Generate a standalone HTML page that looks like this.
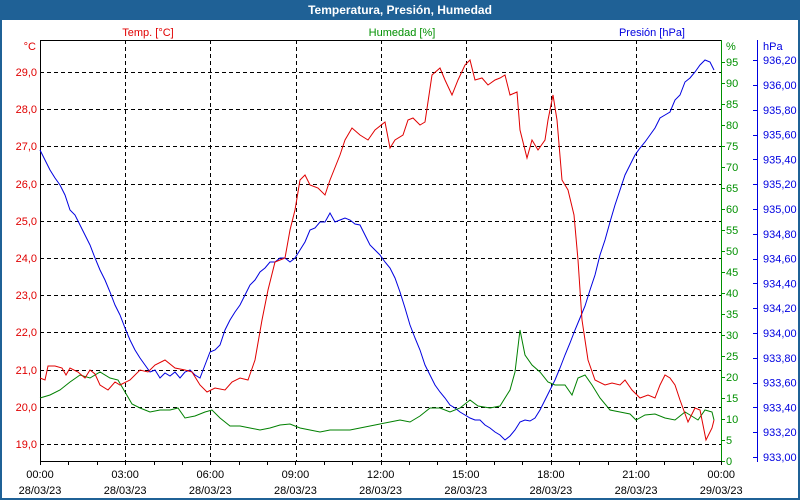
<!DOCTYPE html>
<html><head><meta charset="utf-8"><style>
html,body{margin:0;padding:0;background:#fff}
svg{display:block;font-family:"Liberation Sans",sans-serif;font-size:11px}
</style></head><body>
<svg width="800" height="500" viewBox="0 0 800 500" xmlns="http://www.w3.org/2000/svg">
<rect x="0" y="0" width="800" height="500" fill="#fff"/>
<rect x="1" y="1" width="798" height="498" fill="none" stroke="#1f6196" stroke-width="2"/>
<rect x="0" y="0" width="800" height="20" fill="#1f6196"/>
<text x="400" y="14" text-anchor="middle" fill="#fff" font-weight="bold" font-size="12">Temperatura, Presión, Humedad</text>

<text x="148" y="36" text-anchor="middle" fill="#e00000">Temp. [°C]</text>
<text x="402" y="36" text-anchor="middle" fill="#009000">Humedad [%]</text>
<text x="685" y="36" text-anchor="end" fill="#0000e0">Presión [hPa]</text>
<text x="36" y="50" text-anchor="end" fill="#e00000">°C</text>
<text x="726" y="50" fill="#009000">%</text>
<text x="763" y="50" fill="#0000e0">hPa</text>

<g stroke="#000" stroke-dasharray="4,3" stroke-width="1">
<line x1="40" x2="721" y1="72.5" y2="72.5"/><line x1="40" x2="721" y1="109.5" y2="109.5"/>
<line x1="40" x2="721" y1="146.5" y2="146.5"/><line x1="40" x2="721" y1="184.5" y2="184.5"/>
<line x1="40" x2="721" y1="221.5" y2="221.5"/><line x1="40" x2="721" y1="258.5" y2="258.5"/>
<line x1="40" x2="721" y1="295.5" y2="295.5"/><line x1="40" x2="721" y1="332.5" y2="332.5"/>
<line x1="40" x2="721" y1="370.5" y2="370.5"/><line x1="40" x2="721" y1="407.5" y2="407.5"/>
<line x1="40" x2="721" y1="444.5" y2="444.5"/>
<line y1="40" y2="461" x1="125.5" x2="125.5"/><line y1="40" y2="461" x1="210.5" x2="210.5"/>
<line y1="40" y2="461" x1="296.5" x2="296.5"/><line y1="40" y2="461" x1="381.5" x2="381.5"/>
<line y1="40" y2="461" x1="466.5" x2="466.5"/><line y1="40" y2="461" x1="551.5" x2="551.5"/>
<line y1="40" y2="461" x1="636.5" x2="636.5"/>
</g>
<line x1="40.5" y1="40" x2="40.5" y2="461" stroke="#000"/>
<line x1="40" y1="40.5" x2="721" y2="40.5" stroke="#000"/>
<line x1="40" y1="461.5" x2="721" y2="461.5" stroke="#000"/>
<line x1="721.5" y1="40" x2="721.5" y2="462" stroke="#009000"/>
<line x1="757.5" y1="40" x2="757.5" y2="462" stroke="#0000e0"/>

<g fill="#e00000" text-anchor="end">
<text x="37" y="76">29,0</text><text x="37" y="113">28,0</text><text x="37" y="150">27,0</text>
<text x="37" y="188">26,0</text><text x="37" y="225">25,0</text><text x="37" y="262">24,0</text>
<text x="37" y="299">23,0</text><text x="37" y="336">22,0</text><text x="37" y="374">21,0</text>
<text x="37" y="411">20,0</text><text x="37" y="448">19,0</text>
</g>
<g fill="#009000" id="hum"></g>
<g fill="#0000e0" id="pres"></g>
<g stroke="#000" id="xt"></g>
<g fill="#000" text-anchor="middle" id="xl"></g>

<polyline fill="none" stroke="#0000e0" stroke-width="1" points="40,150 45,160 50,170 55,178 60,185 65,195 70,210 75,215 80,225 85,235 90,245 95,258 100,270 105,280 110,292 115,305 120,315 125,328 130,340 135,350 140,358 145,365 150,372 155,370 160,378 165,373 170,376 175,372 180,378 185,372 190,370 195,375 200,378 205,365 210,352 215,350 220,345 225,330 230,320 235,312 240,305 245,295 250,285 255,280 260,272 265,268 270,262 275,262 280,258 285,258 290,262 295,258 300,250 305,242 310,230 315,228 320,222 325,222 330,213 335,222 340,220 345,218 350,220 355,224 360,225 365,235 370,245 375,250 380,255 385,262 390,268 395,278 400,292 405,308 410,325 415,338 420,350 425,365 430,375 435,385 440,392 445,398 450,405 455,408 460,412 465,415 470,418 475,420 480,420 485,425 490,428 495,432 500,435 505,440 510,436 515,430 520,422 525,420 530,421 535,418 540,410 545,400 550,390 555,380 560,368 565,355 570,343 575,330 580,318 585,306 590,290 595,275 600,255 605,240 610,222 615,205 620,190 625,175 630,165 635,155 640,148 645,142 650,135 655,128 660,118 665,115 670,112 675,100 680,95 685,82 690,78 695,72 700,65 705,60 710,62 714,70"/>
<polyline fill="none" stroke="#008000" stroke-width="1" points="40,398 50,395 60,390 70,382 80,375 90,378 100,372 110,378 118,380 125,392 132,404 140,408 150,412 160,410 170,410 178,408 185,418 195,416 205,412 212,410 220,418 230,426 240,426 250,428 260,430 270,428 280,425 290,424 300,428 310,430 320,432 330,430 340,430 350,430 360,428 370,426 380,424 390,422 400,420 410,422 420,416 430,408 440,408 450,412 460,408 470,400 478,406 490,408 500,406 510,390 515,372 520,330 525,355 532,365 540,372 548,382 555,385 565,385 572,395 578,378 585,375 592,385 600,398 610,410 620,412 630,414 636,420 645,415 655,414 665,418 675,420 685,412 690,415 698,420 705,410 712,412 714,420"/>
<polyline fill="none" stroke="#e00000" stroke-width="1" points="40,378 45,380 48,366 55,366 62,368 66,375 70,368 78,372 85,378 90,370 95,374 100,385 108,390 115,382 120,385 130,380 140,370 148,372 155,365 165,360 175,368 185,370 192,372 200,385 207,392 215,388 225,390 232,382 240,378 248,380 255,360 262,320 268,290 275,262 285,258 290,230 295,210 300,180 305,175 310,185 318,188 325,195 330,180 340,155 345,140 352,128 360,135 368,140 375,130 385,122 390,148 395,140 403,135 408,120 413,118 420,125 425,122 432,75 440,68 445,80 452,95 458,80 465,65 470,60 475,80 482,78 488,85 495,80 500,78 505,75 510,95 517,92 520,130 527,158 532,140 538,150 545,140 548,120 553,95 557,120 562,180 568,190 574,215 578,260 582,320 588,360 595,380 605,385 612,383 620,385 625,380 632,390 640,398 648,395 655,398 660,385 665,375 670,378 675,385 680,400 688,422 695,408 700,410 706,440 712,428 714,420"/>
<script>
var ns="http://www.w3.org/2000/svg";
function el(p,t,a,txt){var e=document.createElementNS(ns,t);for(var k in a)e.setAttribute(k,a[k]);if(txt!==undefined)e.textContent=txt;document.getElementById(p).appendChild(e);}
for(var v=0;v<=95;v+=5){var y=461-v*4.2;el("hum","text",{x:726,y:y+4},String(v));el("hum","line",{x1:721,x2:725,y1:Math.round(y)+.5,y2:Math.round(y)+.5,stroke:"#009000"});}
for(var i=0;i<=16;i++){var p=933+i*0.2;var y=457-i*24.8;el("pres","text",{x:763,y:y+4},p.toFixed(2).replace(".",","));el("pres","line",{x1:753,x2:757,y1:Math.round(y)+.5,y2:Math.round(y)+.5,stroke:"#0000e0"});}
var t=["00:00","03:00","06:00","09:00","12:00","15:00","18:00","21:00","00:00"];
for(var i=0;i<9;i++){var x=40+i*85.15;el("xl","text",{x:x,y:478},t[i]);el("xl","text",{x:x,y:494},i==8?"29/03/23":"28/03/23");}
for(var i=0;i<=24;i++){var x=Math.round(40+i*28.38)+.5;el("xt","line",{x1:x,x2:x,y1:461,y2:465});}
</script>
</svg>
</body></html>
